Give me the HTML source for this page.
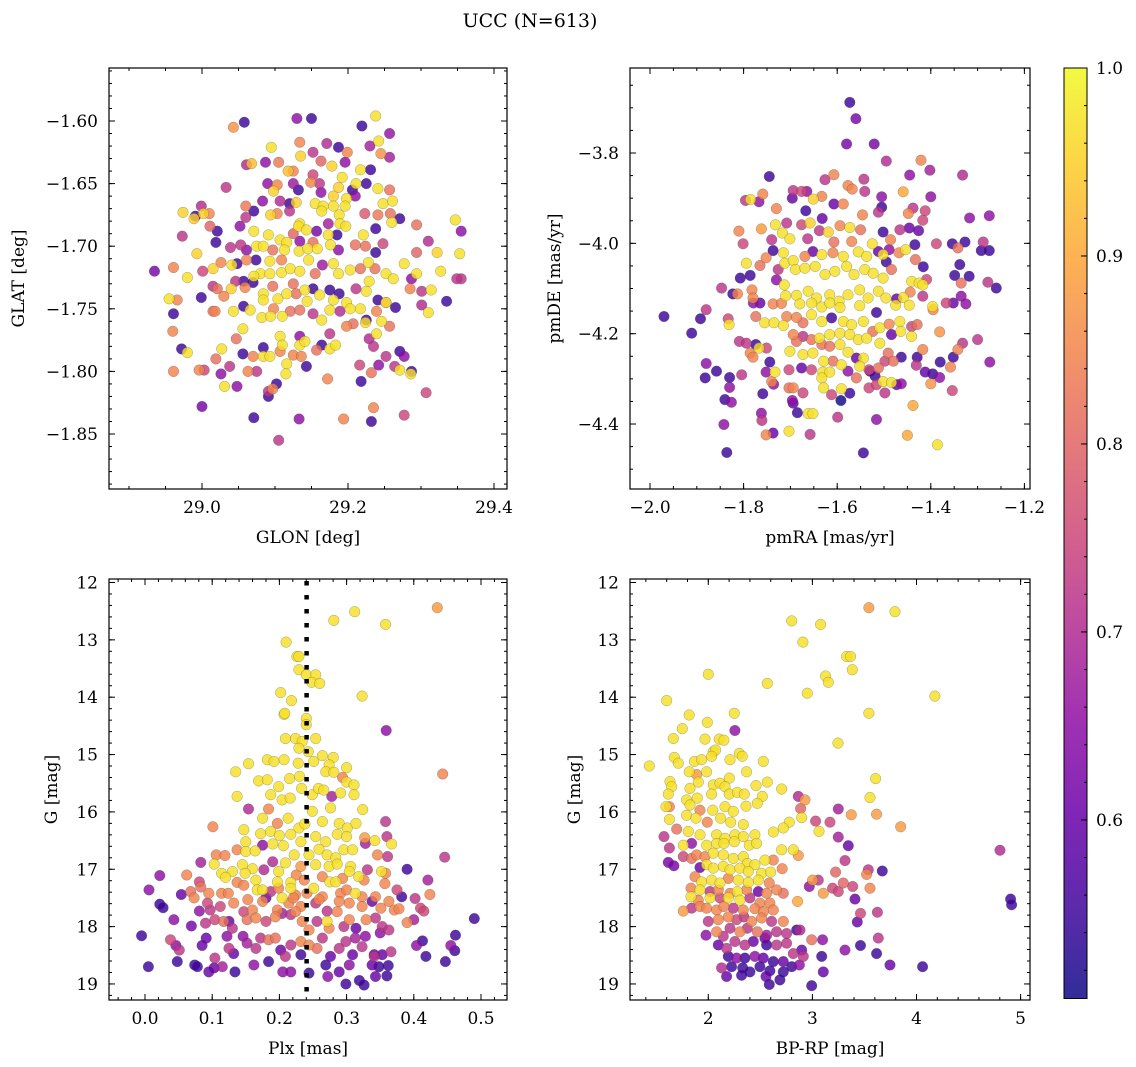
<!DOCTYPE html>
<html><head><meta charset="utf-8">
<style>
html,body{margin:0;padding:0;background:#fff;}
svg{display:block;font-family:"DejaVu Serif","Liberation Serif",serif;}
</style></head>
<body>
<svg id="fig" width="1136" height="1067" viewBox="0 0 1136 1067" xmlns="http://www.w3.org/2000/svg">
<text x="530" y="27" font-size="19" text-anchor="middle">UCC (N=613)</text>
</svg>
<script>
// ---------- data: [x, y, membership probability] ----------
const glonGlat = [
[29.238,-1.596,.97],[29.058,-1.601,.55],[29.043,-1.605,.87],[29.130,-1.598,.65],[29.150,-1.598,.55],[29.219,-1.604,.55],[29.257,-1.610,.66],[29.242,-1.616,.97],[29.134,-1.617,.85],[29.171,-1.618,.7],[29.187,-1.621,.55],[29.095,-1.621,.97],[29.199,-1.625,.85],[29.230,-1.620,.68],[29.245,-1.626,.87],[29.257,-1.629,.68],[29.135,-1.628,.95],[29.152,-1.625,.72],[29.087,-1.633,.65],[29.105,-1.633,.83],[29.068,-1.634,.93],[29.061,-1.635,.7],[29.163,-1.632,.8],[29.178,-1.636,.95],[29.196,-1.633,.65],[29.118,-1.640,.93],[29.125,-1.640,.85],[29.217,-1.639,.97],[29.231,-1.639,.55],[29.152,-1.643,.75],[29.192,-1.645,.97],[29.090,-1.650,.65],[29.103,-1.651,.85],[29.125,-1.650,.67],[29.149,-1.649,.85],[29.161,-1.650,.72],[29.211,-1.650,.97],[29.225,-1.650,.55],[29.033,-1.653,.72],[29.098,-1.656,.95],[29.132,-1.655,.55],[29.163,-1.657,.65],[29.187,-1.653,.95],[29.206,-1.655,.55],[29.241,-1.654,.97],[29.257,-1.655,.82],[29.180,-1.660,.95],[29.198,-1.662,.97],[29.210,-1.660,.65],[29.083,-1.664,.65],[29.107,-1.664,.7],[29.120,-1.666,.55],[29.129,-1.665,.95],[29.155,-1.666,.97],[29.166,-1.668,.97],[29.180,-1.668,.97],[29.196,-1.668,.97],[29.248,-1.666,.97],[29.261,-1.664,.97],[29.060,-1.668,.83],[28.999,-1.668,.7],[28.974,-1.673,.95],[28.991,-1.676,.55],[28.989,-1.678,.95],[29.002,-1.674,.95],[29.010,-1.674,.85],[29.071,-1.672,.55],[29.094,-1.675,.95],[29.103,-1.674,.85],[29.120,-1.672,.72],[29.164,-1.672,.97],[29.188,-1.675,.97],[29.223,-1.674,.78],[29.241,-1.675,.83],[29.258,-1.674,.82],[29.271,-1.678,.55],[29.260,-1.681,.97],[29.294,-1.683,.82],[29.347,-1.679,.97],[29.355,-1.688,.65],[29.060,-1.677,.72],[29.052,-1.684,.65],[29.011,-1.684,.8],[29.021,-1.688,.55],[28.973,-1.692,.72],[29.134,-1.682,.97],[29.132,-1.684,.97],[29.143,-1.687,.97],[29.157,-1.688,.62],[29.173,-1.682,.68],[29.189,-1.682,.97],[29.197,-1.684,.97],[29.185,-1.691,.55],[29.173,-1.691,.97],[29.221,-1.691,.97],[29.238,-1.686,.55],[29.071,-1.688,.97],[29.091,-1.691,.97],[29.107,-1.695,.97],[29.125,-1.690,.8],[29.116,-1.697,.97],[29.134,-1.696,.65],[29.152,-1.697,.82],[29.019,-1.697,.55],[29.039,-1.701,.72],[29.053,-1.699,.72],[29.061,-1.703,.65],[29.075,-1.700,.97],[29.084,-1.700,.97],[29.097,-1.703,.82],[29.113,-1.703,.97],[29.133,-1.704,.97],[29.145,-1.702,.97],[29.158,-1.702,.97],[29.176,-1.699,.97],[29.187,-1.703,.65],[29.210,-1.699,.82],[29.224,-1.700,.82],[29.248,-1.698,.75],[29.238,-1.705,.55],[29.310,-1.696,.7],[28.993,-1.706,.95],[29.294,-1.705,.8],[29.322,-1.705,.95],[29.353,-1.706,.97],[28.935,-1.720,.62],[28.961,-1.717,.85],[28.980,-1.725,.97],[29.001,-1.720,.75],[29.015,-1.718,.95],[29.026,-1.713,.85],[29.041,-1.715,.97],[29.048,-1.714,.55],[29.061,-1.711,.85],[29.074,-1.711,.55],[29.080,-1.722,.97],[29.093,-1.712,.97],[29.093,-1.722,.97],[29.109,-1.711,.85],[29.109,-1.721,.97],[29.121,-1.718,.97],[29.134,-1.720,.97],[29.146,-1.711,.97],[29.155,-1.722,.82],[29.165,-1.715,.67],[29.180,-1.714,.97],[29.187,-1.722,.97],[29.203,-1.719,.97],[29.217,-1.718,.82],[29.228,-1.713,.97],[29.237,-1.718,.82],[29.252,-1.722,.97],[29.262,-1.726,.97],[29.277,-1.714,.97],[29.294,-1.722,.97],[29.327,-1.720,.97],[29.287,-1.726,.65],[29.355,-1.726,.72],[28.955,-1.742,.97],[28.966,-1.743,.85],[28.961,-1.754,.55],[28.999,-1.741,.55],[29.015,-1.732,.72],[29.021,-1.734,.82],[29.030,-1.740,.85],[29.040,-1.734,.95],[29.046,-1.728,.72],[29.059,-1.733,.85],[29.057,-1.728,.55],[29.070,-1.729,.55],[29.071,-1.724,.97],[29.084,-1.738,.97],[29.084,-1.743,.97],[29.097,-1.732,.82],[29.104,-1.742,.97],[29.116,-1.738,.97],[29.125,-1.730,.82],[29.129,-1.738,.82],[29.141,-1.735,.97],[29.152,-1.734,.55],[29.161,-1.739,.97],[29.175,-1.735,.55],[29.180,-1.743,.97],[29.188,-1.738,.55],[29.198,-1.745,.97],[29.211,-1.734,.72],[29.225,-1.736,.97],[29.229,-1.728,.97],[29.241,-1.743,.55],[29.252,-1.745,.97],[29.265,-1.749,.55],[29.285,-1.734,.85],[29.301,-1.736,.72],[29.314,-1.735,.97],[29.301,-1.747,.7],[29.310,-1.753,.97],[29.335,-1.744,.55],[29.349,-1.726,.72],[29.015,-1.752,.82],[29.018,-1.752,.85],[29.043,-1.752,.97],[29.057,-1.748,.55],[29.066,-1.751,.97],[29.082,-1.757,.97],[29.094,-1.756,.97],[29.098,-1.750,.85],[29.110,-1.756,.97],[29.121,-1.752,.82],[29.134,-1.751,.82],[29.144,-1.744,.97],[29.152,-1.754,.72],[29.164,-1.759,.97],[29.175,-1.751,.97],[29.189,-1.752,.7],[29.203,-1.750,.97],[29.217,-1.750,.97],[29.225,-1.759,.55],[29.239,-1.752,.85],[29.252,-1.745,.82],[28.972,-1.782,.55],[28.980,-1.785,.97],[28.960,-1.768,.85],[28.996,-1.799,.85],[29.003,-1.799,.75],[28.961,-1.800,.85],[29.026,-1.802,.65],[29.038,-1.796,.72],[29.031,-1.812,.97],[29.048,-1.812,.65],[29.000,-1.828,.62],[29.019,-1.790,.82],[29.027,-1.782,.97],[29.047,-1.774,.82],[29.056,-1.766,.97],[29.056,-1.786,.55],[29.063,-1.800,.85],[29.075,-1.800,.72],[29.070,-1.788,.85],[29.071,-1.837,.55],[29.084,-1.781,.55],[29.084,-1.788,.97],[29.093,-1.788,.97],[29.091,-1.820,.55],[29.091,-1.816,.72],[29.097,-1.814,.85],[29.102,-1.810,.55],[29.105,-1.855,.72],[29.107,-1.772,.97],[29.110,-1.779,.97],[29.116,-1.794,.97],[29.107,-1.784,.85],[29.115,-1.802,.97],[29.125,-1.787,.85],[29.134,-1.772,.65],[29.134,-1.779,.97],[29.136,-1.788,.85],[29.143,-1.796,.55],[29.141,-1.776,.97],[29.133,-1.838,.65],[29.157,-1.783,.82],[29.164,-1.779,.55],[29.175,-1.782,.97],[29.183,-1.779,.97],[29.175,-1.770,.72],[29.172,-1.806,.85],[29.194,-1.838,.85],[29.198,-1.764,.85],[29.207,-1.762,.82],[29.224,-1.761,.97],[29.229,-1.774,.7],[29.235,-1.780,.72],[29.239,-1.770,.97],[29.246,-1.760,.97],[29.257,-1.764,.82],[29.252,-1.788,.72],[29.216,-1.795,.75],[29.218,-1.808,.55],[29.232,-1.801,.82],[29.242,-1.795,.65],[29.264,-1.796,.72],[29.271,-1.799,.97],[29.271,-1.784,.55],[29.277,-1.788,.65],[29.287,-1.800,.55],[29.286,-1.802,.97],[29.307,-1.817,.75],[29.235,-1.829,.85],[29.232,-1.840,.55],[29.277,-1.835,.75]
];
const pmraPmde = [
[-1.573,-3.688,.55],[-1.560,-3.724,.62],[-1.580,-3.780,.62],[-1.521,-3.780,.62],[-1.495,-3.818,.7],[-1.421,-3.816,.85],[-1.402,-3.838,.68],[-1.445,-3.849,.65],[-1.332,-3.849,.7],[-1.745,-3.852,.55],[-1.607,-3.848,.85],[-1.626,-3.859,.72],[-1.543,-3.858,.72],[-1.577,-3.872,.85],[-1.568,-3.880,.85],[-1.541,-3.885,.72],[-1.459,-3.886,.9],[-1.400,-3.897,.65],[-1.796,-3.905,.72],[-1.785,-3.903,.97],[-1.767,-3.908,.65],[-1.759,-3.891,.85],[-1.696,-3.900,.6],[-1.676,-3.885,.75],[-1.665,-3.885,.65],[-1.651,-3.902,.95],[-1.633,-3.896,.85],[-1.694,-3.883,.72],[-1.607,-3.913,.6],[-1.587,-3.913,.85],[-1.505,-3.897,.65],[-1.505,-3.920,.55],[-1.512,-3.931,.72],[-1.667,-3.928,.55],[-1.632,-3.945,.6],[-1.730,-3.923,.85],[-1.546,-3.937,.85],[-1.448,-3.934,.85],[-1.438,-3.922,.72],[-1.412,-3.928,.75],[-1.417,-3.949,.75],[-1.317,-3.944,.65],[-1.275,-3.939,.65],[-1.732,-3.959,.97],[-1.717,-3.977,.97],[-1.708,-3.955,.72],[-1.762,-3.968,.88],[-1.810,-3.973,.85],[-1.701,-3.990,.97],[-1.676,-3.959,.75],[-1.658,-3.955,.95],[-1.638,-3.972,.72],[-1.619,-3.975,.95],[-1.594,-3.961,.85],[-1.573,-3.965,.97],[-1.550,-3.970,.82],[-1.502,-3.975,.55],[-1.466,-3.970,.72],[-1.446,-3.966,.6],[-1.426,-3.972,.6],[-1.486,-3.992,.85],[-1.801,-4.001,.75],[-1.740,-3.992,.72],[-1.663,-3.990,.72],[-1.607,-3.997,.82],[-1.569,-3.996,.85],[-1.525,-4.001,.97],[-1.434,-4.003,.55],[-1.388,-4.001,.75],[-1.354,-4.001,.55],[-1.327,-3.997,.55],[-1.342,-4.010,.82],[-1.288,-3.997,.72],[-1.292,-4.016,.55],[-1.275,-4.016,.55],[-1.737,-4.016,.55],[-1.794,-4.044,.97],[-1.752,-4.032,.85],[-1.715,-4.021,.97],[-1.712,-4.044,.97],[-1.694,-4.038,.97],[-1.669,-4.029,.85],[-1.652,-4.018,.6],[-1.633,-4.025,.97],[-1.609,-4.021,.85],[-1.587,-4.029,.97],[-1.555,-4.019,.97],[-1.537,-4.029,.97],[-1.512,-4.018,.6],[-1.489,-4.014,.65],[-1.502,-4.025,.97],[-1.468,-4.021,.85],[-1.454,-4.014,.97],[-1.433,-4.036,.82],[-1.495,-4.041,.55],[-1.416,-4.052,.55],[-1.338,-4.047,.55],[-1.765,-4.049,.82],[-1.726,-4.058,.72],[-1.689,-4.058,.97],[-1.669,-4.055,.97],[-1.647,-4.051,.97],[-1.626,-4.069,.97],[-1.605,-4.062,.97],[-1.580,-4.051,.97],[-1.564,-4.069,.97],[-1.541,-4.058,.97],[-1.523,-4.066,.97],[-1.502,-4.077,.97],[-1.484,-4.058,.82],[-1.786,-4.071,.55],[-1.807,-4.077,.55],[-1.730,-4.081,.65],[-1.349,-4.071,.55],[-1.318,-4.073,.55],[-1.335,-4.088,.82],[-1.409,-4.080,.75],[-1.441,-4.084,.97],[-1.425,-4.088,.97],[-1.417,-4.092,.97],[-1.278,-4.086,.72],[-1.260,-4.099,.55],[-1.847,-4.099,.72],[-1.823,-4.112,.55],[-1.813,-4.112,.85],[-1.782,-4.103,.85],[-1.780,-4.121,.85],[-1.713,-4.092,.97],[-1.710,-4.116,.97],[-1.687,-4.115,.97],[-1.662,-4.106,.97],[-1.644,-4.121,.97],[-1.616,-4.114,.97],[-1.596,-4.128,.97],[-1.577,-4.114,.97],[-1.552,-4.103,.97],[-1.534,-4.121,.97],[-1.512,-4.106,.97],[-1.496,-4.121,.97],[-1.473,-4.123,.6],[-1.459,-4.120,.97],[-1.444,-4.108,.85],[-1.417,-4.117,.72],[-1.335,-4.117,.65],[-1.779,-4.132,.65],[-1.765,-4.132,.6],[-1.737,-4.134,.85],[-1.719,-4.133,.85],[-1.680,-4.134,.97],[-1.655,-4.132,.97],[-1.633,-4.141,.97],[-1.616,-4.132,.97],[-1.594,-4.142,.97],[-1.552,-4.138,.97],[-1.516,-4.153,.55],[-1.475,-4.137,.97],[-1.446,-4.137,.97],[-1.396,-4.140,.97],[-1.395,-4.147,.85],[-1.367,-4.132,.75],[-1.352,-4.132,.6],[-1.325,-4.134,.65],[-1.970,-4.162,.55],[-1.892,-4.167,.55],[-1.880,-4.147,.72],[-1.833,-4.167,.75],[-1.831,-4.180,.97],[-1.774,-4.162,.82],[-1.755,-4.176,.97],[-1.735,-4.176,.97],[-1.715,-4.182,.97],[-1.708,-4.162,.85],[-1.687,-4.164,.85],[-1.673,-4.176,.82],[-1.655,-4.158,.97],[-1.633,-4.173,.97],[-1.612,-4.165,.55],[-1.587,-4.173,.97],[-1.569,-4.180,.97],[-1.544,-4.173,.97],[-1.524,-4.195,.82],[-1.509,-4.187,.97],[-1.489,-4.179,.85],[-1.466,-4.173,.97],[-1.441,-4.184,.75],[-1.429,-4.180,.82],[-1.381,-4.196,.87],[-1.911,-4.199,.55],[-1.694,-4.202,.85],[-1.673,-4.206,.72],[-1.655,-4.213,.82],[-1.638,-4.210,.97],[-1.616,-4.202,.97],[-1.594,-4.199,.97],[-1.573,-4.202,.97],[-1.555,-4.213,.97],[-1.537,-4.210,.97],[-1.484,-4.202,.6],[-1.464,-4.195,.97],[-1.441,-4.206,.97],[-1.809,-4.217,.72],[-1.794,-4.221,.72],[-1.774,-4.224,.55],[-1.767,-4.232,.97],[-1.751,-4.232,.75],[-1.687,-4.217,.82],[-1.633,-4.224,.82],[-1.616,-4.228,.82],[-1.594,-4.224,.97],[-1.509,-4.221,.97],[-1.417,-4.235,.85],[-1.332,-4.221,.72],[-1.300,-4.213,.72],[-1.342,-4.235,.85],[-1.786,-4.243,.85],[-1.780,-4.252,.85],[-1.701,-4.239,.97],[-1.673,-4.246,.97],[-1.652,-4.243,.97],[-1.629,-4.261,.97],[-1.609,-4.261,.82],[-1.577,-4.241,.97],[-1.559,-4.254,.6],[-1.544,-4.254,.97],[-1.491,-4.243,.82],[-1.463,-4.252,.55],[-1.429,-4.252,.55],[-1.352,-4.252,.55],[-1.274,-4.263,.65],[-1.880,-4.266,.65],[-1.858,-4.283,.55],[-1.882,-4.298,.55],[-1.830,-4.297,.55],[-1.804,-4.291,.72],[-1.744,-4.263,.55],[-1.752,-4.285,.65],[-1.733,-4.285,.97],[-1.703,-4.280,.75],[-1.676,-4.276,.6],[-1.655,-4.280,.75],[-1.631,-4.285,.97],[-1.616,-4.285,.97],[-1.591,-4.269,.97],[-1.577,-4.283,.65],[-1.552,-4.272,.97],[-1.532,-4.280,.75],[-1.512,-4.276,.82],[-1.498,-4.261,.75],[-1.480,-4.261,.82],[-1.431,-4.270,.72],[-1.412,-4.285,.6],[-1.396,-4.289,.55],[-1.380,-4.263,.55],[-1.358,-4.274,.85],[-1.381,-4.297,.65],[-1.400,-4.311,.87],[-1.354,-4.326,.75],[-1.830,-4.319,.65],[-1.840,-4.346,.55],[-1.826,-4.352,.65],[-1.842,-4.401,.65],[-1.836,-4.463,.55],[-1.759,-4.333,.55],[-1.740,-4.306,.85],[-1.736,-4.312,.65],[-1.762,-4.376,.65],[-1.761,-4.392,.72],[-1.752,-4.424,.85],[-1.737,-4.420,.6],[-1.703,-4.320,.82],[-1.694,-4.320,.85],[-1.696,-4.348,.65],[-1.694,-4.354,.6],[-1.673,-4.331,.75],[-1.685,-4.375,.55],[-1.662,-4.377,.97],[-1.652,-4.377,.97],[-1.703,-4.416,.97],[-1.658,-4.423,.72],[-1.633,-4.298,.97],[-1.629,-4.320,.97],[-1.612,-4.335,.75],[-1.591,-4.322,.97],[-1.592,-4.348,.5],[-1.573,-4.332,.55],[-1.559,-4.298,.82],[-1.599,-4.385,.72],[-1.544,-4.464,.55],[-1.530,-4.283,.55],[-1.519,-4.294,.55],[-1.532,-4.320,.75],[-1.516,-4.313,.75],[-1.502,-4.306,.97],[-1.484,-4.308,.97],[-1.498,-4.331,.72],[-1.473,-4.313,.6],[-1.463,-4.311,.65],[-1.516,-4.390,.65],[-1.438,-4.359,.9],[-1.450,-4.425,.9],[-1.386,-4.446,.97]
];
const plxG = [
[0.435,12.44,.88],[0.312,12.51,.97],[0.281,12.66,.97],[0.358,12.73,.97],[0.210,13.04,.97],[0.226,13.29,.97],[0.229,13.29,.97],[0.229,13.52,.97],[0.240,13.61,.97],[0.254,13.61,.97],[0.248,13.74,.97],[0.260,13.76,.97],[0.202,13.92,.97],[0.323,13.98,.97],[0.218,14.06,.97],[0.207,14.30,.97],[0.208,14.28,.97],[0.359,14.58,.65],[0.240,14.37,.97],[0.240,14.48,.97],[0.209,14.72,.97],[0.224,14.72,.97],[0.234,14.77,.97],[0.254,14.72,.97],[0.229,14.89,.97],[0.243,14.95,.97],[0.135,15.30,.97],[0.154,15.16,.97],[0.182,15.09,.97],[0.192,15.12,.97],[0.207,15.09,.97],[0.228,15.15,.97],[0.251,15.12,.97],[0.264,15.02,.97],[0.280,15.05,.97],[0.300,15.23,.97],[0.274,15.18,.97],[0.443,15.34,.85],[0.169,15.46,.97],[0.182,15.44,.97],[0.199,15.56,.97],[0.215,15.42,.97],[0.230,15.38,.97],[0.269,15.30,.97],[0.281,15.31,.97],[0.294,15.40,.85],[0.300,15.48,.97],[0.311,15.53,.97],[0.137,15.73,.97],[0.154,15.95,.7],[0.184,15.95,.85],[0.187,15.70,.97],[0.204,15.79,.97],[0.216,15.76,.97],[0.233,15.59,.97],[0.249,15.70,.97],[0.258,15.59,.97],[0.266,15.62,.97],[0.278,15.73,.68],[0.291,15.67,.97],[0.311,15.70,.97],[0.276,15.93,.97],[0.324,15.96,.97],[0.358,16.17,.72],[0.101,16.26,.85],[0.147,16.31,.97],[0.175,16.11,.97],[0.197,16.20,.85],[0.213,16.11,.97],[0.229,16.28,.97],[0.238,16.21,.97],[0.249,15.99,.97],[0.264,16.17,.97],[0.289,16.20,.97],[0.301,16.28,.97],[0.314,16.20,.97],[0.327,16.45,.88],[0.360,16.43,.72],[0.150,16.52,.97],[0.172,16.38,.97],[0.187,16.34,.97],[0.200,16.41,.97],[0.217,16.39,.97],[0.232,16.52,.97],[0.254,16.43,.97],[0.269,16.52,.97],[0.286,16.39,.97],[0.300,16.43,.97],[0.342,16.50,.97],[0.367,16.56,.97],[0.328,16.55,.68],[0.137,16.66,.85],[0.150,16.69,.97],[0.164,16.68,.97],[0.175,16.58,.65],[0.190,16.56,.97],[0.206,16.59,.97],[0.222,16.75,.97],[0.244,16.75,.97],[0.259,16.65,.97],[0.271,16.75,.97],[0.284,16.80,.97],[0.296,16.66,.97],[0.309,16.66,.97],[0.346,16.75,.85],[0.361,16.78,.72],[0.446,16.79,.72],[0.083,16.88,.68],[0.106,16.75,.85],[0.119,16.76,.85],[0.103,16.91,.97],[0.145,16.92,.97],[0.160,16.99,.97],[0.177,17.01,.7],[0.190,16.87,.7],[0.199,17.04,.97],[0.209,16.89,.97],[0.232,16.95,.88],[0.254,16.92,.97],[0.274,16.95,.97],[0.286,16.91,.97],[0.306,16.95,.97],[0.331,17.01,.72],[0.352,17.04,.97],[0.358,17.07,.85],[0.390,17.00,.55],[0.022,17.11,.65],[0.062,17.10,.85],[0.114,17.07,.97],[0.130,17.04,.97],[0.149,17.07,.97],[0.120,17.14,.97],[0.165,17.19,.97],[0.197,17.22,.97],[0.217,17.23,.97],[0.225,17.10,.85],[0.237,17.19,.85],[0.264,17.13,.85],[0.275,17.22,.97],[0.294,17.16,.85],[0.304,17.04,.97],[0.318,17.13,.97],[0.326,17.19,.85],[0.421,17.19,.68],[0.006,17.36,.65],[0.054,17.44,.6],[0.068,17.39,.82],[0.081,17.22,.75],[0.083,17.31,.82],[0.095,17.42,.85],[0.114,17.42,.85],[0.124,17.42,.85],[0.137,17.23,.85],[0.147,17.28,.85],[0.167,17.36,.97],[0.175,17.36,.97],[0.187,17.39,.72],[0.199,17.33,.85],[0.217,17.33,.97],[0.224,17.45,.85],[0.241,17.42,.85],[0.251,17.33,.97],[0.264,17.48,.85],[0.284,17.22,.97],[0.291,17.42,.85],[0.300,17.36,.85],[0.313,17.42,.97],[0.323,17.48,.85],[0.343,17.48,.85],[0.357,17.25,.85],[0.375,17.36,.75],[0.382,17.48,.55],[0.402,17.51,.72],[0.424,17.44,.85],[0.022,17.61,.55],[0.027,17.67,.55],[0.073,17.50,.85],[0.093,17.59,.75],[0.081,17.73,.65],[0.097,17.71,.72],[0.112,17.65,.75],[0.132,17.59,.85],[0.153,17.53,.85],[0.160,17.71,.85],[0.175,17.56,.85],[0.180,17.50,.6],[0.197,17.71,.85],[0.204,17.50,.97],[0.214,17.59,.85],[0.221,17.50,.85],[0.232,17.65,.85],[0.254,17.59,.72],[0.259,17.53,.85],[0.271,17.73,.72],[0.289,17.56,.85],[0.304,17.59,.85],[0.323,17.65,.85],[0.338,17.56,.6],[0.351,17.68,.85],[0.363,17.56,.85],[0.371,17.71,.85],[0.378,17.69,.85],[0.410,17.68,.75],[0.415,17.73,.75],[0.043,17.88,.65],[0.069,17.99,.62],[0.090,17.94,.72],[0.104,17.88,.75],[0.117,17.91,.82],[0.125,17.91,.6],[0.130,18.03,.72],[0.147,17.74,.75],[0.152,17.88,.82],[0.165,17.85,.85],[0.180,17.91,.75],[0.194,17.83,.85],[0.204,17.77,.68],[0.217,17.79,.72],[0.224,17.74,.85],[0.234,17.91,.85],[0.244,18.06,.85],[0.256,17.91,.72],[0.271,17.91,.97],[0.274,18.03,.85],[0.286,17.74,.85],[0.296,18.00,.72],[0.304,17.88,.85],[0.314,18.03,.6],[0.329,17.88,.85],[0.343,17.85,.72],[0.353,18.00,.72],[0.363,18.06,.72],[0.390,17.93,.85],[0.400,17.88,.68],[0.490,17.86,.55],[-0.005,18.16,.55],[0.038,18.23,.75],[0.046,18.33,.65],[0.051,18.41,.72],[0.091,18.20,.6],[0.085,18.33,.6],[0.122,18.17,.65],[0.125,18.38,.72],[0.132,18.47,.6],[0.146,18.17,.65],[0.152,18.29,.68],[0.165,18.38,.72],[0.172,18.20,.72],[0.184,18.23,.82],[0.194,18.20,.82],[0.202,18.41,.6],[0.209,18.52,.72],[0.217,18.32,.72],[0.232,18.26,.85],[0.232,18.49,.55],[0.244,18.32,.85],[0.256,18.38,.82],[0.264,18.20,.72],[0.276,18.52,.6],[0.289,18.38,.72],[0.299,18.26,.72],[0.309,18.49,.6],[0.313,18.20,.68],[0.323,18.35,.72],[0.328,18.17,.65],[0.341,18.49,.6],[0.350,18.11,.65],[0.353,18.49,.6],[0.366,18.44,.72],[0.404,18.33,.65],[0.413,18.25,.55],[0.418,18.52,.55],[0.455,18.33,.65],[0.462,18.15,.55],[0.461,18.42,.55],[0.005,18.70,.55],[0.048,18.61,.55],[0.074,18.67,.55],[0.078,18.70,.55],[0.095,18.79,.6],[0.103,18.72,.6],[0.115,18.70,.68],[0.104,18.55,.72],[0.134,18.79,.55],[0.162,18.67,.65],[0.184,18.61,.55],[0.205,18.79,.65],[0.217,18.79,.65],[0.244,18.81,.55],[0.269,18.67,.55],[0.272,18.87,.65],[0.289,18.79,.6],[0.299,19.00,.55],[0.304,18.67,.65],[0.319,18.94,.55],[0.326,19.02,.55],[0.338,18.67,.6],[0.343,18.87,.6],[0.348,18.70,.55],[0.362,18.68,.55],[0.360,18.86,.55],[0.341,18.52,.72],[0.447,18.61,.55]
];
const bprpG = [
[3.543,12.44,.88],[3.793,12.51,.97],[2.801,12.67,.97],[3.079,12.73,.97],[2.909,13.04,.97],[3.329,13.29,.97],[3.367,13.29,.97],[3.383,13.52,.97],[3.127,13.63,.97],[3.153,13.74,.97],[2.0,13.60,.97],[2.567,13.76,.97],[2.951,13.93,.97],[4.177,13.98,.97],[1.600,14.06,.97],[1.817,14.31,.97],[2.250,14.28,.97],[3.543,14.28,.97],[1.990,14.44,.97],[1.750,14.55,.97],[2.256,14.58,.65],[1.664,14.72,.97],[1.968,14.73,.97],[2.106,14.73,.97],[2.150,14.75,.97],[3.246,14.80,.97],[2.048,14.95,.97],[2.070,14.92,.97],[2.298,14.98,.97],[2.327,15.03,.97],[1.673,15.05,.97],[1.712,15.15,.97],[1.866,15.12,.97],[1.936,15.09,.97],[2.032,15.03,.97],[2.208,15.09,.97],[2.528,15.12,.97],[1.433,15.20,.97],[1.817,15.30,.97],[1.888,15.35,.88],[1.984,15.30,.97],[2.368,15.30,.97],[2.202,15.41,.97],[3.607,15.42,.97],[1.632,15.47,.97],[1.648,15.56,.97],[1.904,15.48,.97],[2.048,15.53,.97],[2.112,15.50,.97],[2.160,15.56,.97],[2.458,15.54,.97],[2.567,15.48,.97],[2.704,15.60,.97],[1.824,15.59,.97],[1.616,15.69,.97],[1.792,15.79,.97],[1.894,15.76,.97],[2.032,15.69,.97],[2.202,15.69,.97],[2.279,15.66,.97],[2.346,15.69,.97],[2.519,15.73,.97],[2.865,15.73,.7],[2.929,15.79,.88],[3.553,15.75,.97],[1.594,15.91,.97],[1.626,15.91,.85],[1.824,15.88,.97],[1.920,15.97,.85],[2.042,15.97,.97],[2.160,15.91,.97],[2.240,15.99,.97],[2.362,15.90,.97],[2.471,15.85,.97],[2.887,15.94,.8],[3.249,15.95,.68],[1.626,16.13,.97],[1.792,16.06,.97],[1.882,16.11,.97],[1.990,16.18,.85],[2.118,16.11,.97],[2.215,16.18,.97],[2.336,16.22,.97],[2.778,16.18,.97],[2.897,16.10,.97],[3.031,16.16,.75],[3.169,16.18,.75],[3.374,16.05,.88],[3.617,16.04,.88],[3.848,16.26,.88],[1.696,16.30,.82],[1.808,16.34,.97],[1.920,16.40,.97],[2.080,16.40,.97],[2.160,16.46,.97],[2.256,16.40,.97],[2.336,16.43,.97],[2.448,16.40,.97],[2.624,16.35,.97],[2.720,16.28,.97],[3.063,16.34,.97],[1.574,16.43,.72],[3.249,16.44,.68],[1.760,16.58,.97],[1.626,16.63,.72],[1.840,16.55,.65],[1.984,16.58,.97],[2.080,16.55,.97],[2.150,16.55,.97],[2.250,16.52,.97],[2.394,16.58,.97],[2.464,16.55,.97],[2.704,16.66,.97],[2.817,16.66,.97],[3.345,16.59,.6],[4.802,16.67,.7],[1.760,16.78,.75],[1.840,16.81,.82],[1.888,16.75,.85],[1.968,16.78,.85],[2.048,16.72,.97],[2.144,16.75,.97],[2.240,16.81,.97],[2.336,16.78,.97],[2.375,16.90,.97],[2.448,16.92,.97],[2.544,16.84,.97],[2.624,16.84,.85],[2.865,16.76,.88],[3.313,16.85,.72],[1.616,16.88,.62],[1.670,16.94,.62],[1.920,16.97,.6],[1.984,16.92,.97],[2.048,16.98,.97],[2.144,16.95,.97],[2.208,17.01,.97],[2.304,16.98,.97],[2.384,17.04,.97],[2.512,17.07,.97],[2.598,17.05,.97],[2.710,16.99,.85],[3.223,17.05,.8],[3.521,17.09,.85],[3.537,17.01,.72],[3.671,17.03,.55],[1.872,17.13,.85],[1.936,17.22,.97],[2.032,17.19,.97],[2.112,17.24,.97],[2.192,17.16,.85],[2.288,17.19,.97],[2.384,17.23,.97],[2.480,17.19,.97],[2.586,17.24,.85],[3.002,17.19,.88],[3.057,17.19,.72],[3.297,17.24,.8],[3.387,17.30,.75],[1.834,17.33,.85],[1.920,17.36,.97],[2.016,17.39,.72],[2.096,17.36,.85],[2.208,17.42,.85],[2.279,17.39,.97],[2.368,17.36,.85],[2.480,17.39,.6],[2.560,17.42,.85],[2.656,17.36,.85],[2.720,17.42,.82],[2.970,17.30,.65],[3.105,17.42,.88],[3.194,17.33,.75],[3.249,17.39,.75],[3.553,17.33,.85],[1.834,17.48,.97],[1.904,17.54,.85],[2.016,17.50,.97],[2.112,17.50,.75],[2.192,17.50,.97],[2.304,17.54,.97],[2.400,17.50,.72],[2.496,17.59,.85],[2.592,17.59,.85],[2.858,17.56,.9],[3.409,17.52,.6],[1.760,17.73,.88],[1.840,17.68,.72],[1.920,17.65,.85],[1.984,17.68,.85],[2.080,17.71,.85],[2.150,17.65,.85],[2.240,17.68,.72],[2.336,17.71,.85],[2.448,17.69,.85],[2.528,17.74,.85],[2.624,17.71,.85],[2.000,17.91,.72],[2.096,17.88,.85],[2.192,17.83,.85],[2.272,17.88,.75],[2.342,17.83,.72],[2.416,17.91,.85],[2.512,17.85,.85],[2.608,17.91,.72],[2.720,17.91,.85],[3.462,17.77,.75],[3.624,17.75,.72],[1.978,18.15,.65],[2.080,18.09,.85],[2.144,18.17,.72],[2.208,18.03,.72],[2.304,18.09,.85],[2.375,18.03,.72],[2.471,18.09,.82],[2.560,18.15,.68],[2.656,18.09,.72],[2.752,18.12,.72],[2.849,18.06,.55],[2.881,18.06,.7],[3.431,17.92,.6],[2.096,18.32,.6],[2.176,18.38,.72],[2.256,18.26,.72],[2.352,18.32,.72],[2.432,18.26,.6],[2.544,18.20,.6],[2.560,18.32,.55],[2.656,18.32,.72],[2.752,18.29,.72],[2.817,18.47,.72],[2.897,18.41,.6],[2.913,18.52,.72],[2.993,18.23,.82],[3.098,18.23,.65],[3.462,18.33,.55],[3.313,18.41,.65],[3.633,18.20,.72],[3.617,18.47,.55],[3.089,18.52,.55],[2.192,18.52,.55],[2.272,18.55,.65],[2.352,18.55,.55],[2.448,18.52,.65],[2.528,18.55,.6],[2.624,18.61,.55],[2.720,18.61,.6],[2.801,18.70,.55],[2.875,18.67,.65],[2.128,18.72,.7],[2.224,18.70,.55],[2.330,18.72,.55],[2.400,18.79,.55],[2.496,18.70,.55],[2.592,18.77,.55],[2.720,18.79,.55],[2.176,18.87,.6],[2.320,18.85,.55],[2.554,18.87,.6],[2.688,18.93,.55],[2.586,19.01,.55],[2.993,19.03,.55],[3.105,18.79,.6],[3.745,18.67,.6],[4.059,18.70,.55],[4.904,17.52,.55],[4.914,17.62,.55]
];
const plxMedian = 0.2405;
const glonTicks = [29.0, 29.2, 29.4];
const glatTicks = [-1.60, -1.65, -1.70, -1.75, -1.80, -1.85];
const pmraTicks = [-2.0, -1.8, -1.6, -1.4, -1.2];
const pmdeTicks = [-3.8, -4.0, -4.2, -4.4];
const plxTicks = [0.0, 0.1, 0.2, 0.3, 0.4, 0.5];
const gTicks = [12, 13, 14, 15, 16, 17, 18, 19];
const bprpTicks = [2, 3, 4, 5];
const cbarTicks = [0.6, 0.7, 0.8, 0.9, 1.0];
const cMin = 0.505, cMax = 1.0;

// ---------- helpers ----------
const NS = 'http://www.w3.org/2000/svg';
const svg = document.getElementById('fig');
function el(tag, attrs, parent) {
  const e = document.createElementNS(NS, tag);
  for (const k in attrs) e.setAttribute(k, attrs[k]);
  (parent || svg).appendChild(e);
  return e;
}
const plasma = ['#0d0887','#41049d','#6a00a8','#8f0da4','#b12a90','#cc4778','#e16462','#f2844b','#fca636','#fcce25','#f0f921'];
function hex2rgb(h){return [parseInt(h.slice(1,3),16),parseInt(h.slice(3,5),16),parseInt(h.slice(5,7),16)];}
function cmap(c) {
  let t = Math.max(0, Math.min(1, (c - cMin) / (cMax - cMin))) * 10;
  const i = Math.min(9, Math.floor(t)), f = t - i;
  const a = hex2rgb(plasma[i]), b = hex2rgb(plasma[i + 1]);
  return 'rgb(' + a.map((v, k) => Math.round(v + (b[k] - v) * f)).join(',') + ')';
}
function fmt(v, d) { const s = Math.abs(v).toFixed(d); return (v < 0 ? '\u2212' : '') + s; }

function panel(cfg) {
  const g = el('g', {});
  
  
  const L = cfg.box[0], R = cfg.box[1], T = cfg.box[2], B = cfg.box[3];
  const sx = v => cfg.x0 + (v - cfg.xv0) * cfg.xs;
  const sy = v => cfg.y0 + (v - cfg.yv0) * cfg.ys;
  const clipId = cfg.name + '-clip';
  const cp = el('clipPath', {id: clipId}, g);
  el('rect', {x: L, y: T, width: R - L, height: B - T}, cp);
  const pts = el('g', {'clip-path': 'url(#' + clipId + ')'}, g);
  
  
  const sorted = cfg.data.slice().sort((a, b) => a[2] - b[2]);
  sorted.forEach(p => {
    const c = el('circle', {cx: sx(p[0]).toFixed(1), cy: sy(p[1]).toFixed(1), r: 5.3, fill: cmap(p[2]), 'fill-opacity': 0.82, stroke: 'rgba(60,60,60,0.45)', 'stroke-width': 0.5}, pts);
    
    
  });
  if (cfg.extra) cfg.extra(g, sx, sy, L, R, T, B);
  const fr = el('rect', {x: L, y: T, width: R - L, height: B - T, fill: 'none', stroke: '#000', 'stroke-width': 1.2}, g);
  
  
  const tk = el('g', {stroke: '#000', 'stroke-width': 1}, g);
  for (let v = cfg.xmin0; v <= cfg.xmax0 + 1e-9; v += cfg.xminor) {
    const x = sx(v); if (x < L + 0.5 || x > R - 0.5) continue;
    el('line', {x1: x, x2: x, y1: B, y2: B - 3}, tk); el('line', {x1: x, x2: x, y1: T, y2: T + 3}, tk);
  }
  for (let v = cfg.ymin0; v <= cfg.ymax0 + 1e-9; v += cfg.yminor) {
    const y = sy(v); if (y < T + 0.5 || y > B - 0.5) continue;
    el('line', {x1: L, x2: L + 3, y1: y, y2: y}, tk); el('line', {x1: R, x2: R - 3, y1: y, y2: y}, tk);
  }
  const xt = el('g', {'font-size': 17, 'text-anchor': 'middle'}, g);
  
  
  cfg.xticks.forEach(v => {
    const x = sx(v);
    el('line', {x1: x, x2: x, y1: B, y2: B - 6, stroke: '#000', 'stroke-width': 1}, g);
    el('line', {x1: x, x2: x, y1: T, y2: T + 6, stroke: '#000', 'stroke-width': 1}, g);
    const t = el('text', {x: x, y: B + 24}, xt); t.textContent = fmt(v, cfg.xd);
  });
  const yt = el('g', {'font-size': 17, 'text-anchor': 'end'}, g);
  
  
  cfg.yticks.forEach(v => {
    const y = sy(v);
    el('line', {x1: L, x2: L + 6, y1: y, y2: y, stroke: '#000', 'stroke-width': 1}, g);
    el('line', {x1: R, x2: R - 6, y1: y, y2: y, stroke: '#000', 'stroke-width': 1}, g);
    const t = el('text', {x: L - 11, y: y + 6}, yt); t.textContent = fmt(v, cfg.yd);
  });
  const xl = el('text', {x: (L + R) / 2, y: B + 54, 'font-size': 17, 'text-anchor': 'middle'}, g);
  
  
  xl.textContent = cfg.xlabel;
  const yl = el('text', {x: 0, y: 0, 'font-size': 17, 'text-anchor': 'middle', transform: 'translate(' + cfg.ylx + ',' + (T + B) / 2 + ') rotate(-90)'}, g);
  
  
  yl.textContent = cfg.ylabel;
}

panel({name: 'glon-glat-panel', data: glonGlat, box: [109, 507, 68, 489],
  x0: 202, xv0: 29.0, xs: 730, y0: 121, yv0: -1.60, ys: -1252,
  xmin0: 28.85, xmax0: 29.45, xminor: 0.05, ymin0: -1.90, ymax0: -1.55, yminor: 0.01,
  xticks: glonTicks, xd: 1, yticks: glatTicks, yd: 2, xlabel: 'GLON [deg]', ylabel: 'GLAT [deg]', ylx: 24});
panel({name: 'pmra-pmde-panel', data: pmraPmde, box: [630, 1030, 68, 489],
  x0: 650, xv0: -2.0, xs: 468, y0: 153, yv0: -3.8, ys: -451.7,
  xmin0: -2.05, xmax0: -1.15, xminor: 0.05, ymin0: -4.55, ymax0: -3.65, yminor: 0.05,
  xticks: pmraTicks, xd: 1, yticks: pmdeTicks, yd: 1, xlabel: 'pmRA [mas/yr]', ylabel: 'pmDE [mas/yr]', ylx: 560});
panel({name: 'plx-g-panel', data: plxG, box: [109, 507, 579, 1000],
  x0: 145, xv0: 0.0, xs: 672, y0: 582.5, yv0: 12, ys: 57.35,
  xmin0: -0.06, xmax0: 0.56, xminor: 0.02, ymin0: 11.8, ymax0: 19.4, yminor: 0.2,
  xticks: plxTicks, xd: 1, yticks: gTicks, yd: 0, xlabel: 'Plx [mas]', ylabel: 'G [mag]', ylx: 57,
  extra: (g, sx, sy, L, R, T, B) => {
    const ln = el('line', {x1: sx(plxMedian), x2: sx(plxMedian), y1: T + 2, y2: B, stroke: '#000', 'stroke-width': 4.5, 'stroke-dasharray': '4.5 9.5'}, g);
    
    
  }});
panel({name: 'cmd-panel', data: bprpG, box: [630, 1030, 579, 1000],
  x0: 708.3, xv0: 2, xs: 104.1, y0: 582.5, yv0: 12, ys: 57.35,
  xmin0: 1.2, xmax0: 5.2, xminor: 0.2, ymin0: 11.8, ymax0: 19.4, yminor: 0.2,
  xticks: bprpTicks, xd: 0, yticks: gTicks, yd: 0, xlabel: 'BP-RP [mag]', ylabel: 'G [mag]', ylx: 580});

// ---------- colorbar ----------
const cb = el('g', {});


const defs = el('defs', {}, cb);
const grad = el('linearGradient', {id: 'plasmaGrad', x1: 0, y1: 1, x2: 0, y2: 0}, defs);
for (let i = 0; i <= 20; i++) {
  const c = cMin + (cMax - cMin) * i / 20;
  el('stop', {offset: (i / 20).toFixed(3), 'stop-color': cmap(c), 'stop-opacity': 0.85}, grad);
}
const cbL = 1064, cbR = 1087, cbT = 68, cbB = 998.5;
const cy = v => cbB - (v - cMin) / (cMax - cMin) * (cbB - cbT);
el('rect', {x: cbL, y: cbT, width: cbR - cbL, height: cbB - cbT, fill: 'url(#plasmaGrad)', stroke: '#000', 'stroke-width': 1}, cb);
for (let v = 0.52; v < 1.0; v += 0.02) {
  el('line', {x1: cbR, x2: cbR - 3, y1: cy(v), y2: cy(v), stroke: '#000', 'stroke-width': 1}, cb);
}
cbarTicks.forEach(v => {
  el('line', {x1: cbR, x2: cbR - 6, y1: cy(v), y2: cy(v), stroke: '#000', 'stroke-width': 1}, cb);
  const t = el('text', {x: cbR + 9, y: cy(v) + 6, 'font-size': 17}, cb);
  
  
  t.textContent = v.toFixed(1);
});
</script>
</body></html>
